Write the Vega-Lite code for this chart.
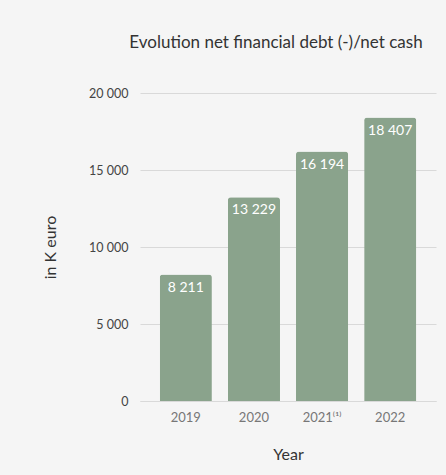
{
  "$schema": "https://vega.github.io/schema/vega-lite/v6.json",
  "autosize": "none",
  "width": 296,
  "height": 308,
  "padding": {"left": 140, "top": 93, "right": 10, "bottom": 74},
  "background": "#f5f5f5",
  "title": {"text": "Evolution net financial debt (-)/net cash", "fontSize": 17, "font": "Lato", "fontWeight": "normal", "color": "#333333", "anchor": "middle", "dx": -12, "offset": 35},
  "config": {"view": {"stroke": null}, "font": "Lato"},
  "data": {"values": [
    {"year": "2019", "value": 8211, "label": "8 211"},
    {"year": "2020", "value": 13229, "label": "13 229"},
    {"year": "2021⁽¹⁾", "value": 16194, "label": "16 194"},
    {"year": "2022", "value": 18407, "label": "18 407"}
  ]},
  "encoding": {
    "x": {"field": "year", "type": "nominal", "sort": null,
      "scale": {"paddingInner": 0.235, "paddingOuter": 0.29},
      "axis": {"title": "Year", "labelAngle": 0, "ticks": false, "domain": true, "domainColor": "#d9d9d9", "labelColor": "#777777", "labelFontSize": 13, "labelPadding": 10, "titleFontSize": 16, "titleFontWeight": "normal", "titleColor": "#333333", "titlePadding": 22}},
    "y": {"field": "value", "type": "quantitative",
      "scale": {"domain": [0, 20000]},
      "axis": {"title": "in K euro", "values": [0, 5000, 10000, 15000, 20000], "labelExpr": "replace(format(datum.value, ','), ',', ' ')", "ticks": false, "domain": false, "gridColor": "#d9d9d9", "labelColor": "#444444", "labelFontSize": 12.5, "labelPadding": 12, "titleFontSize": 16, "titleFontWeight": "normal", "titleColor": "#333333", "titlePadding": 30}}
  },
  "layer": [
    {"mark": {"type": "bar", "color": "#8aa38c", "cornerRadiusTopLeft": 3, "cornerRadiusTopRight": 3}},
    {"mark": {"type": "text", "color": "white", "fontSize": 14, "baseline": "top", "dy": 6},
     "encoding": {"text": {"field": "label", "type": "nominal"}}}
  ]
}
